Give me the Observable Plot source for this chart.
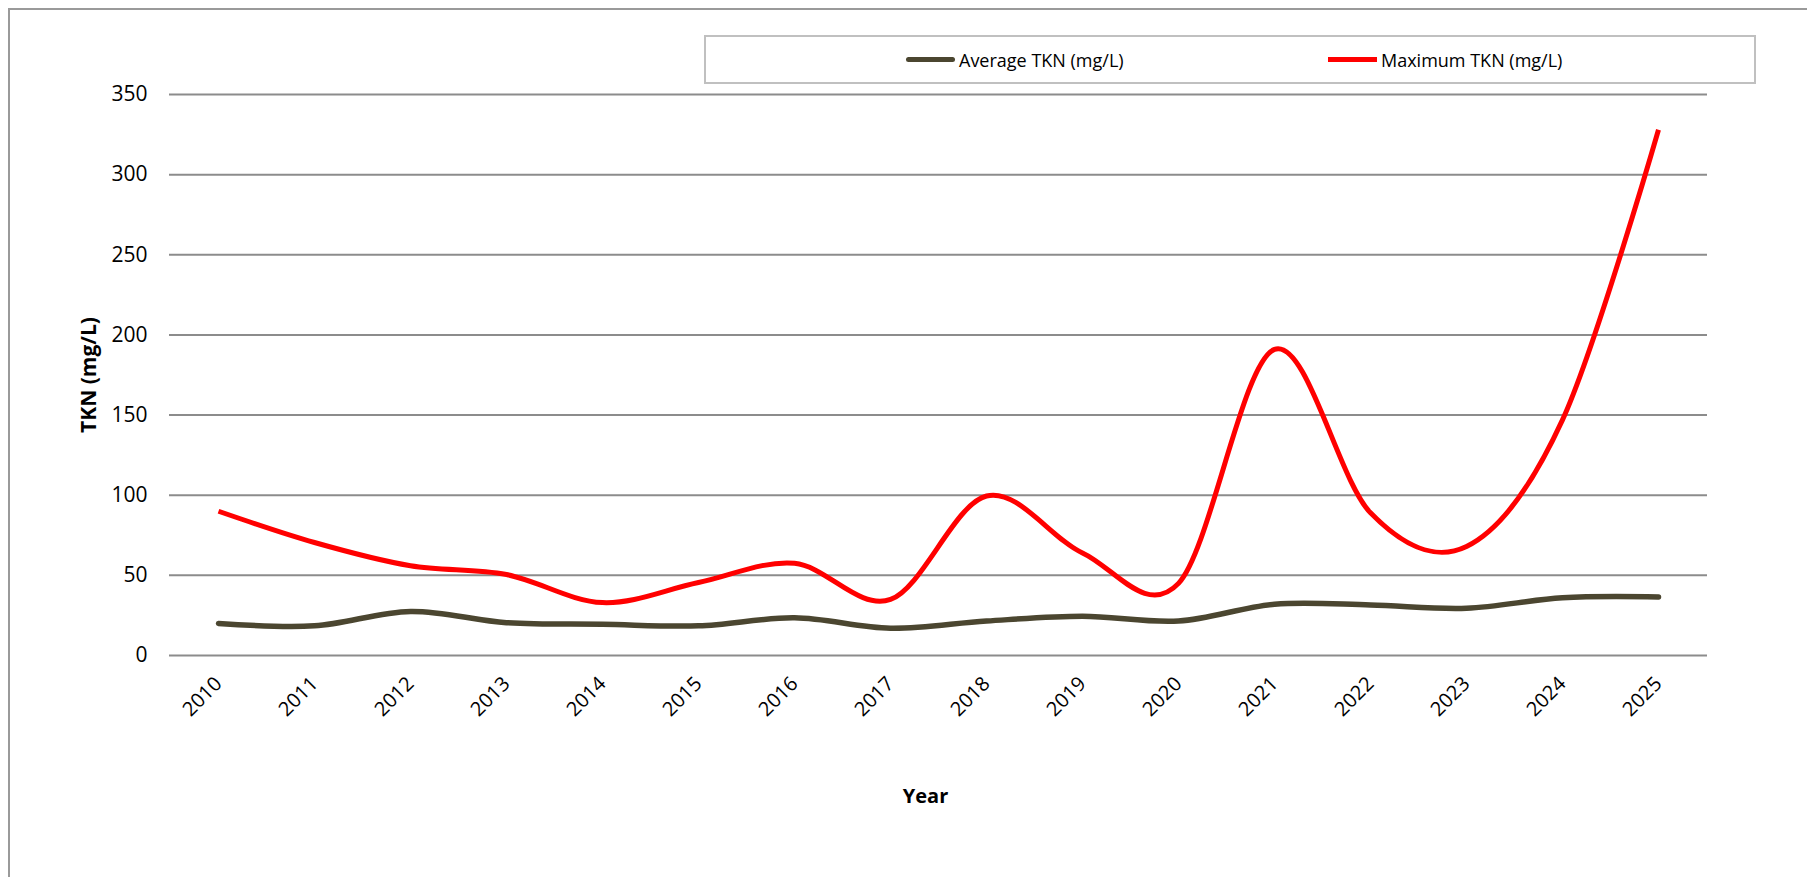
<!DOCTYPE html>
<html>
<head>
<meta charset="utf-8">
<script src="https://cdn.jsdelivr.net/npm/d3@7"></script>
<script src="https://cdn.jsdelivr.net/npm/@observablehq/plot@0.6"></script>
<style>
  html, body { margin: 0; padding: 0; background: #fff; overflow: hidden; }
  #wrap { position: relative; width: 1807px; height: 877px; }
  #frame { position: absolute; left: 8px; top: 8px; width: 1900px; height: 1000px;
           border-left: 2px solid #9a9a9a; border-top: 2px solid #9a9a9a; box-sizing: border-box; }
  #chart { position: absolute; left: 0; top: 0; }
  #legend { position: absolute; left: 704px; top: 35px; width: 1052px; height: 49px;
            border: 2px solid #c0c0c0; box-sizing: border-box; background: #fff;
            font-family: "Open Sans", sans-serif; font-size: 18px; color: #000; }
  .item { position: absolute; top: 0; height: 45px; display: flex; align-items: center; }
  .swatch { width: 49px; height: 5px; margin-right: 4px; }
</style>
</head>
<body>
<div id="wrap">
  <div id="frame"></div>
  <div id="chart"></div>
  <div id="legend"></div>
</div>
<script>
// Years on the category axis
const years = ["2010", "2011", "2012", "2013", "2014", "2015", "2016", "2017",
               "2018", "2019", "2020", "2021", "2022", "2023", "2024", "2025"];

// Yearly TKN concentrations, mg/L
const averageTKN = [20, 18.5, 27.5, 20.5, 19.5, 18.5, 23.5, 17, 21.5, 24.5, 21.5, 32, 31.5, 29.5, 36, 36.5];
const maximumTKN = [90, 70.5, 56, 50.5, 33, 45.5, 57.5, 35, 99.5, 64, 45, 191, 89, 68, 147, 328];

// Value axis ticks
const yTicks = [0, 50, 100, 150, 200, 250, 300, 350];

// Series names and colours
const seriesNames = ["Average TKN (mg/L)", "Maximum TKN (mg/L)"];
const seriesColors = ["#4b4630", "#ff0000"];

const avgRows = years.map((year, i) => ({year, value: averageTKN[i]}));
const maxRows = years.map((year, i) => ({year, value: maximumTKN[i]}));

const chart = Plot.plot({
  width: 1807,
  height: 877,
  marginLeft: 169,
  marginRight: 100,
  marginTop: 94,
  marginBottom: 222,
  x: {type: "point", domain: years, padding: 0.5},
  y: {domain: [0, 350]},
  style: {fontFamily: "'Open Sans', sans-serif", color: "#000", background: "transparent", overflow: "visible"},
  marks: [
    Plot.gridY(yTicks, {stroke: "#8c8c8c", strokeOpacity: 1, strokeWidth: 2}),
    Plot.axisY(yTicks, {tickSize: 0, tickPadding: 22, fontSize: 21, label: null}),
    Plot.axisX({tickSize: 0, tickRotate: -45, tickPadding: 25, fontSize: 20, label: null}),
    Plot.lineY(avgRows, {x: "year", y: "value", stroke: seriesColors[0], strokeWidth: 5.5,
      curve: "cardinal", tension: 0, strokeLinecap: "round"}),
    Plot.lineY(maxRows, {x: "year", y: "value", stroke: seriesColors[1], strokeWidth: 5,
      curve: "cardinal", tension: 0, strokeLinecap: "butt"}),
    Plot.text(["TKN (mg/L)"], {frameAnchor: "left", rotate: -90, dx: -80, fontWeight: "bold",
      fontSize: 21, textAnchor: "middle", lineAnchor: "middle"}),
    Plot.text(["Year"], {frameAnchor: "bottom", dy: 141, dx: -13, fontWeight: "bold",
      fontSize: 20, textAnchor: "middle", lineAnchor: "middle"})
  ]
});
document.getElementById("chart").append(chart);

// Legend box above the plot area
const legend = document.getElementById("legend");
const itemLeft = [200, 622];
seriesNames.forEach((name, i) => {
  const item = document.createElement("div");
  item.className = "item";
  item.style.left = itemLeft[i] + "px";
  const sw = document.createElement("div");
  sw.className = "swatch";
  sw.style.background = seriesColors[i];
  if (i === 0) sw.style.borderRadius = "3px";
  const label = document.createElement("span");
  label.textContent = name;
  item.append(sw, label);
  legend.append(item);
});
</script>
</body>
</html>
